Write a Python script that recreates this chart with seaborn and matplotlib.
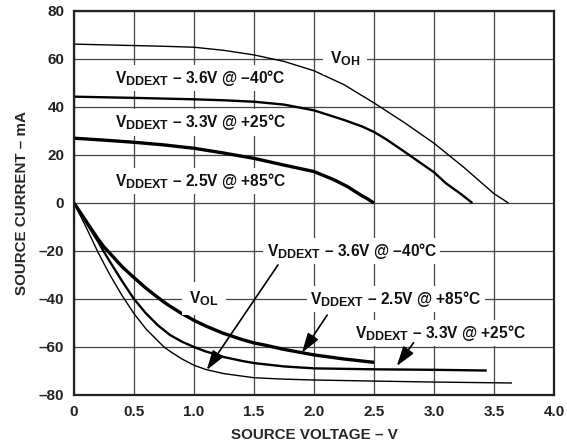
import numpy as np
import pandas as pd
import matplotlib
matplotlib.use("Agg")
import matplotlib.pyplot as plt
import matplotlib._mathtext as _mt
import seaborn as sns

# ---------------- data ----------------
# V_OH curves (source voltage V, source current mA)
voh_36_x = [0, 0.5, 0.75, 1.0, 1.25, 1.5, 1.75, 2.0, 2.25, 2.5, 2.75, 3.0, 3.25, 3.5, 3.62]
voh_36_y = [66.2, 65.6, 65.3, 64.9, 63.6, 61.7, 59.0, 55.1, 49.3, 41.7, 33.6, 24.9, 14.8, 3.9, 0]
voh_33_x = [0, 0.5, 1.0, 1.25, 1.5, 1.75, 2.0, 2.25, 2.4, 2.5, 2.6, 2.75, 3.0, 3.1, 3.22, 3.32]
voh_33_y = [44.3, 43.8, 43.2, 42.8, 42.2, 41.0, 38.6, 34.6, 31.9, 29.6, 26.6, 21.5, 12.8, 8.2, 3.9, 0]
voh_25_x = [0, 0.25, 0.5, 0.75, 1.0, 1.25, 1.5, 1.75, 2.0, 2.17, 2.28, 2.39, 2.44, 2.5]
voh_25_y = [27.0, 26.2, 25.3, 24.2, 22.8, 20.8, 18.6, 15.8, 13.1, 9.6, 6.8, 3.3, 1.9, 0]
# V_OL curves
vol_25_x = [0, 0.1, 0.2, 0.25, 0.3, 0.4, 0.5, 0.6, 0.7, 0.75, 0.8, 0.9, 1.0, 1.1, 1.2,
            1.25, 1.3, 1.4, 1.5, 1.6, 1.75, 2.0, 2.25, 2.5]
vol_25_y = [0, -7.5, -15.0, -18.3, -21.0, -26.5, -31.1, -35.5, -39.4, -41.3, -43.0, -46.1,
            -48.9, -51.3, -53.4, -54.4, -55.2, -56.9, -58.3, -59.3, -61.0, -63.3, -65.0, -66.4]
vol_33_x = [0, 0.1, 0.2, 0.25, 0.3, 0.4, 0.5, 0.6, 0.7, 0.75, 0.8, 0.9, 1.0, 1.1, 1.2,
            1.25, 1.4, 1.5, 1.75, 2.0, 2.5, 3.0, 3.44]
vol_33_y = [0, -8.0, -16.0, -20.4, -24.5, -32.5, -40.0, -46.0, -51.0, -53.0, -55.0, -57.8,
            -60.0, -61.9, -63.3, -64.2, -65.8, -66.7, -68.1, -68.9, -69.3, -69.5, -69.8]
vol_36_x = [0, 0.1, 0.2, 0.25, 0.3, 0.4, 0.5, 0.6, 0.7, 0.75, 0.8, 0.9, 1.0, 1.1,
            1.25, 1.5, 1.75, 2.0, 2.5, 3.0, 3.65]
vol_36_y = [0, -10.0, -20.5, -25.3, -30.0, -38.5, -46.1, -52.5, -57.5, -60.0, -61.8, -65.0,
            -67.6, -69.4, -71.1, -72.8, -73.4, -73.75, -74.2, -74.6, -75.0]

x_ticks = [0, 0.5, 1.0, 1.5, 2.0, 2.5, 3.0, 3.5, 4.0]
x_tick_labels = ["0", "0.5", "1.0", "1.5", "2.0", "2.5", "3.0", "3.5", "4.0"]
y_ticks = [-80, -60, -40, -20, 0, 20, 40, 60, 80]
y_tick_labels = ["\u201380", "\u201360", "\u201340", "\u201320", "0", "20", "40", "60", "80"]

curves = {
    "voh36": (voh_36_x, voh_36_y),
    "voh33": (voh_33_x, voh_33_y),
    "voh25": (voh_25_x, voh_25_y),
    "vol25": (vol_25_x, vol_25_y),
    "vol33": (vol_33_x, vol_33_y),
    "vol36": (vol_36_x, vol_36_y),
}
widths = {"voh36": 1.0, "voh33": 1.7, "voh25": 2.4,
          "vol25": 2.4, "vol33": 1.7, "vol36": 1.0}

rows = []
for name, (xs, ys) in curves.items():
    for xv, yv in zip(xs, ys):
        rows.append({"curve": name, "V": xv, "I": yv})
df = pd.DataFrame(rows)

# ---------------- style ----------------
sns.set_style("white")
plt.rcParams["font.family"] = ["Liberation Sans", "DejaVu Sans"]
plt.rcParams["font.weight"] = "bold"
plt.rcParams["mathtext.fontset"] = "custom"
plt.rcParams["mathtext.rm"] = "Liberation Sans:bold"
plt.rcParams["mathtext.bf"] = "Liberation Sans:bold"
plt.rcParams["mathtext.it"] = "Liberation Sans:bold"
plt.rcParams["lines.solid_joinstyle"] = "round"
plt.rcParams["lines.solid_capstyle"] = "butt"
_mt.SHRINK_FACTOR = 0.8

fig = plt.figure(figsize=(5.67, 4.45), dpi=100)
ax = fig.add_axes([74 / 567, 50 / 445, 480 / 567, 384 / 445])

sns.lineplot(data=df, x="V", y="I", hue="curve", size="curve",
             palette={k: "black" for k in curves}, sizes=widths,
             estimator=None, legend=False, ax=ax)

ax.set_xlim(0, 4)
ax.set_ylim(-80, 80)
ax.set_xticks(x_ticks)
ax.set_xticklabels(x_tick_labels)
ax.set_yticks(y_ticks)
ax.set_yticklabels(y_tick_labels)
ax.tick_params(length=0, labelsize=11, pad=7, colors="#222222")
for lab in ax.get_xticklabels() + ax.get_yticklabels():
    lab.set_fontweight("bold")
ax.grid(True, color="#444444", lw=0.9)
ax.set_axisbelow(True)
for s in ax.spines.values():
    s.set_color("#222222")
    s.set_linewidth(1.6)

ax.set_xlabel("SOURCE VOLTAGE \u2013 V", fontsize=10.9, fontweight="bold", labelpad=6.5)
ax.set_ylabel("SOURCE CURRENT \u2013 mA", fontsize=10.9, fontweight="bold", labelpad=7)

box = dict(boxstyle="square,pad=0.2", fc="white", ec="none")
tfs = 11.2
VD = r"$\mathbf{V}_{\mathbf{DDEXT}}$"
labels = [
    (0.342, 50.0, VD + " \u2013 3.6V @ \u201340\u00b0C"),
    (0.342, 31.5, VD + " \u2013 3.3V @ +25\u00b0C"),
    (0.342, 7.2, VD + " \u2013 2.5V @ +85\u00b0C"),
    (1.605, -22.1, VD + " \u2013 3.6V @ \u201340\u00b0C"),
    (1.97, -42.1, VD + " \u2013 2.5V @ +85\u00b0C"),
    (2.34, -56.1, VD + " \u2013 3.3V @ +25\u00b0C"),
]
for xv, yv, t in labels:
    ax.text(xv, yv, t, fontsize=tfs, fontweight="bold", ha="left", va="baseline",
            bbox=box, zorder=5, color="#111111")

box2 = dict(boxstyle="square,pad=0.45", fc="white", ec="none")
ax.text(2.13, 58.2, r"$\mathbf{V}_{\mathbf{OH}}$", fontsize=tfs, ha="left",
        va="baseline", bbox=box2, zorder=5, color="#111111")
ax.text(0.96, -41.8, r"$\mathbf{V}_{\mathbf{OL}}$", fontsize=tfs, ha="left",
        va="baseline", bbox=box2, zorder=5, color="#111111")

arrows = [
    ((1.70, -25.8), (1.106, -69.6)),
    ((2.11, -46.7), (1.90, -62.4)),
    ((2.83, -58.2), (2.69, -67.9)),
]
for (sx, sy), (tx, ty) in arrows:
    ax.annotate("", xy=(tx, ty), xytext=(sx, sy),
                arrowprops=dict(arrowstyle="-|>,head_length=1.0,head_width=0.32",
                                lw=1.2, color="black", shrinkA=0, shrinkB=0,
                                mutation_scale=12),
                zorder=6)

fig.savefig("out.png", dpi=100)
